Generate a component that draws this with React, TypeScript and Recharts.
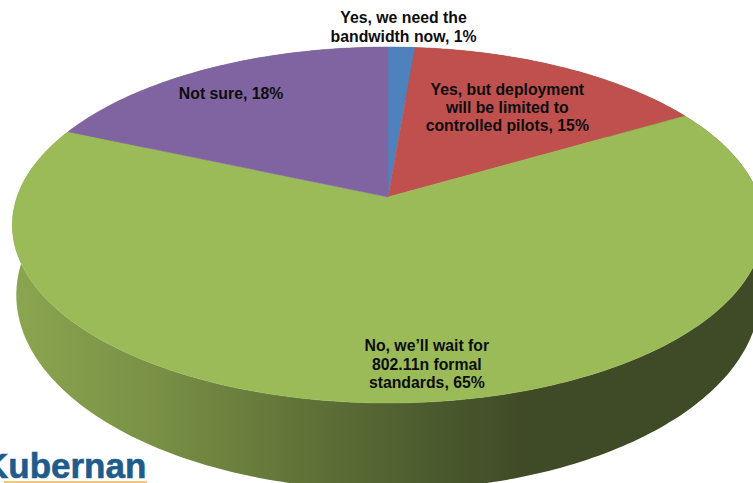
import { PieChart, Pie, Cell } from "recharts";

const categories = [
  ["Yes, we need the", "bandwidth now, 1%"],
  ["Yes, but deployment", "will be limited to", "controlled pilots, 15%"],
  ["No, we\u2019ll wait for", "802.11n formal", "standards, 65%"],
  ["Not sure, 18%"],
];
const values = [1.35, 15.25, 64.95, 18.45];
const colors = ["#4f81bd", "#c0504d", "#9bbb59", "#8064a2"];

const gradientStops = [
  { at: "0%", color: "#8ba650" },
  { at: "20%", color: "#788f45" },
  { at: "40%", color: "#5f7237" },
  { at: "60%", color: "#48562c" },
  { at: "70%", color: "#3f4a26" },
  { at: "100%", color: "#3f4a26" },
];

const chartData = values.map((value, i) => ({ name: categories[i].join(" "), value }));

const WIDTH = 753;
const HEIGHT = 483;
const RAD = Math.PI / 180;

// perspective of the tilted disc: top face and bottom rim
const TOP = { a: 142.6, b: 197, c: -0.1573, scale: 1 };
const BOTTOM = { a: 153.7, b: 267.7, c: -0.14, scale: 0.992 };

// label placement in disc space
const labelRadius = [1.17, 0.66, 0.84, 0.805];
const labelShiftX = [0, -1, 18, -9];
const labelShiftY = [2, 0, 0, 3];

type Persp = typeof TOP;

function project(cx: number, radius: number, angle: number, r: number, p: Persp) {
  const u = r * Math.cos(angle * RAD);
  const v = -r * Math.sin(angle * RAD);
  const d = 1 + p.c * v;
  return [cx + (radius * p.scale * u) / d, (p.a * v + p.b) / d];
}

function arcPoints(cx: number, radius: number, start: number, end: number, p: Persp) {
  const pts: number[][] = [];
  const n = Math.max(2, Math.ceil(Math.abs(end - start)));
  for (let i = 0; i <= n; i++) pts.push(project(cx, radius, start + ((end - start) * i) / n, 1, p));
  return pts;
}

const toPath = (pts: number[][]) =>
  "M" + pts.map((q) => q[0].toFixed(1) + " " + q[1].toFixed(1)).join("L") + "Z";

function TopSlice(props: any) {
  const { cx, cy, outerRadius, startAngle, endAngle, fill } = props;
  const pts = [[cx, cy], ...arcPoints(cx, outerRadius, startAngle, endAngle, TOP)];
  return <path d={toPath(pts)} fill={fill} stroke={fill} strokeWidth={0.5} />;
}

function WallSlice(props: any) {
  const { cx, outerRadius, startAngle, endAngle, fill } = props;
  const upper = arcPoints(cx, outerRadius, startAngle, endAngle, TOP);
  const lower = arcPoints(cx, outerRadius, startAngle, endAngle, BOTTOM).reverse();
  return <path d={toPath([...upper, ...lower])} fill={fill} />;
}

function SliceLabel(props: any) {
  const { cx, outerRadius, midAngle, index } = props;
  const [x0, y0] = project(cx, outerRadius, midAngle, labelRadius[index], TOP);
  const x = x0 + labelShiftX[index];
  const y = y0 + labelShiftY[index];
  const lines = categories[index];
  const lineHeight = 18.3;
  const top = y - ((lines.length - 1) * lineHeight) / 2 + 5;
  return (
    <text
      x={x}
      y={top}
      textAnchor="middle"
      fontFamily="'Liberation Sans', Arial, sans-serif"
      fontWeight={700}
      fontSize={15.8}
      fill="#0d0d0d"
    >
      {lines.map((line, i) => (
        <tspan key={i} x={x} y={top + i * lineHeight}>
          {line}
        </tspan>
      ))}
    </text>
  );
}

export default function App() {
  return (
    <div style={{ position: "fixed", left: 0, top: 0, width: WIDTH, height: HEIGHT, overflow: "hidden", background: "#fff" }}>
      <PieChart width={WIDTH} height={HEIGHT} margin={{ top: 0, right: 0, bottom: 0, left: 0 }}>
        <defs>
          <linearGradient id="wallFill" gradientUnits="userSpaceOnUse" x1={12} y1={0} x2={753} y2={0}>
            {gradientStops.map((s) => (
              <stop key={s.at} offset={s.at} stopColor={s.color} />
            ))}
          </linearGradient>
        </defs>
        <Pie
          data={chartData}
          dataKey="value"
          cx={388}
          cy={197}
          outerRadius={371}
          startAngle={90}
          endAngle={-270}
          stroke="none"
          legendType="none"
          shape={WallSlice}
          isAnimationActive={false}
        >
          {chartData.map((_, i) => (
            <Cell key={i} fill="url(#wallFill)" />
          ))}
        </Pie>
        <Pie
          data={chartData}
          dataKey="value"
          cx={388}
          cy={197}
          outerRadius={371}
          startAngle={90}
          endAngle={-270}
          stroke="none"
          shape={TopSlice}
          label={SliceLabel}
          labelLine={false}
          isAnimationActive={false}
        >
          {chartData.map((_, i) => (
            <Cell key={i} fill={colors[i]} />
          ))}
        </Pie>
      </PieChart>
      <svg width={WIDTH} height={HEIGHT} style={{ position: "absolute", left: 0, top: 0 }}>
        <rect x={4} y={481} width={143} height={2} fill="#f2c77e" />
        <text x={-17} y={478} fontFamily="'Liberation Sans', Arial, sans-serif" fontWeight={700} fontSize={35} fill="#1f5c8c" stroke="#1f5c8c" strokeWidth={0.6}>
          Kubernan
        </text>
      </svg>
    </div>
  );
}
